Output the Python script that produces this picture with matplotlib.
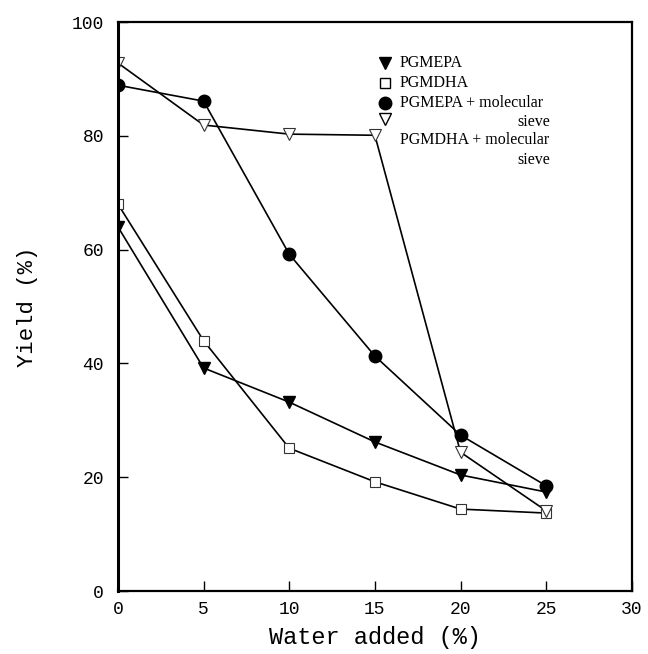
import matplotlib
matplotlib.use("Agg")
import matplotlib.pyplot as plt
from matplotlib.lines import Line2D

water = [0, 5, 10, 15, 20, 25]
pgmepa = [64, 39.2, 33.2, 26.2, 20.4, 17.4]
pgmdha = [68, 44, 25.1, 19.2, 14.4, 13.7]
pgmepa_ms = [88.9, 86.1, 59.2, 41.3, 27.4, 18.5]
pgmdha_ms = [92.8, 81.9, 80.3, 80.1, 24.4, 14.1]

xticks = [0, 5, 10, 15, 20, 25, 30]
yticks = [0, 20, 40, 60, 80, 100]

mono = "Liberation Mono"
serif = "Liberation Serif"

fig = plt.figure(figsize=(6.48, 6.54), dpi=100)
ax = fig.add_axes([0.182, 0.0963, 0.793, 0.870])

lw = 1.2
ms = 8
ax.plot(water, pgmepa, color="black", lw=lw, marker="v", ms=ms, mfc="black", mec="black")
ax.plot(water, pgmdha, color="black", lw=lw, marker="s", ms=7, mfc="white", mec="#333333", mew=0.8)
ax.plot(water, pgmepa_ms, color="black", lw=lw, marker="o", ms=9, mfc="black", mec="black")
ax.plot(water, pgmdha_ms, color="black", lw=lw, marker="v", ms=9, mfc="white", mec="#333333", mew=0.8)

ax.set_xlim(0, 30)
ax.set_ylim(0, 100)
ax.set_xticks(xticks)
ax.set_yticks(yticks)
ax.tick_params(direction="in", length=7, width=1, top=False, right=False,
               labelsize=13, pad=7)
ax.tick_params(axis="y", pad=10)
for lab in ax.get_xticklabels() + ax.get_yticklabels():
    lab.set_family(mono)
for sp in ax.spines.values():
    sp.set_linewidth(1.6)
ax.spines["left"].set_linewidth(2.2)

ax.set_xlabel("Water added (%)", family=mono, fontsize=17, labelpad=6)
ax.set_ylabel("Yield (%)", family=mono, fontsize=16, labelpad=24)

# legend (manual, matching original layout)
mx = 0.519
tx = 0.549
entries = [
    (0.928, "v", "black", "black", 8),
    (0.893, "s", "white", "black", 6.5),
    (0.858, "o", "black", "black", 9),
    (0.830, "v", "white", "black", 9),
]
for y, m, fc, ec, s in entries:
    ax.add_line(Line2D([mx], [y], transform=ax.transAxes, marker=m, ms=s,
                       mfc=fc, mec=ec, mew=1.0, ls="none"))
texts = [
    (tx, 0.928, "PGMEPA"),
    (tx, 0.893, "PGMDHA"),
    (tx, 0.858, "PGMEPA + molecular"),
    (0.778, 0.824, "sieve"),
    (tx, 0.793, "PGMDHA + molecular"),
    (0.778, 0.757, "sieve"),
]
for x, y, t in texts:
    ax.text(x, y, t, transform=ax.transAxes, family=serif, fontsize=11.5,
            va="center", ha="left")

fig.savefig("out.png", dpi=100)
